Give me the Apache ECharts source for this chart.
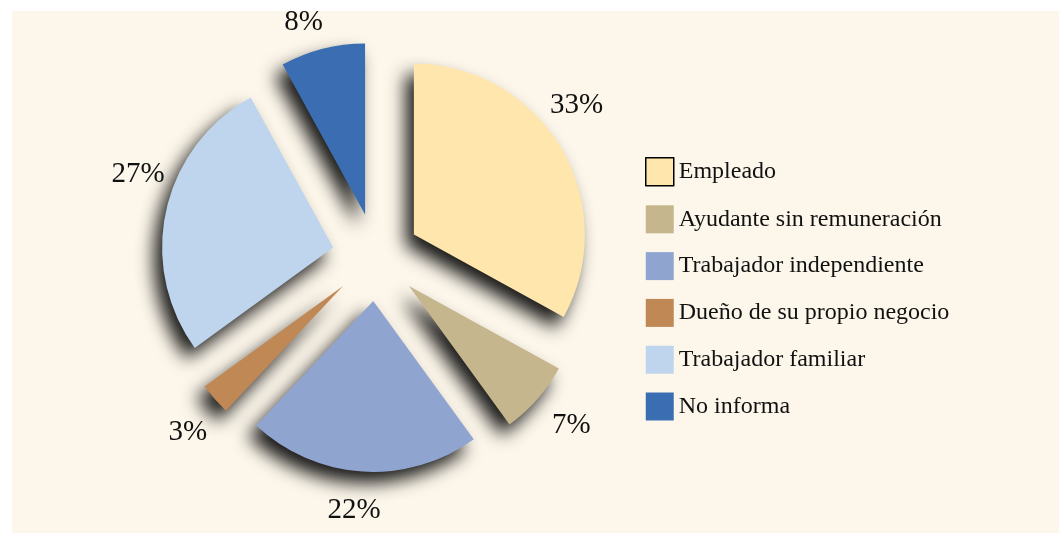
<!DOCTYPE html>
<html>
<head>
<meta charset="utf-8">
<script src="https://cdn.jsdelivr.net/npm/echarts@6/dist/echarts.min.js"></script>
<style>
  html, body { margin: 0; padding: 0; background: #ffffff; }
  #chart { width: 1059px; height: 533px; }
</style>
</head>
<body>
<div id="chart"></div>
<script>
// Categories and their shares (%)
var categories = [
    'Empleado',
    'Ayudante sin remuneración',
    'Trabajador independiente',
    'Dueño de su propio negocio',
    'Trabajador familiar',
    'No informa'
];
var shares = [33, 7, 22, 3, 27, 8];
var colors = ['#FFE6AD', '#C6B68D', '#90A4D0', '#C08855', '#BED5ED', '#3A6DB1'];
// small hand nudges for the percentage labels (px), as in the original layout
var labelNudges = [[-19, -22], [4, 0], [-6, -1], [3, 7], [11, -27], [-9, 12]];

var serif = '"Liberation Serif", "Times New Roman", serif';
var pieCenter = [376, 257];
var pieRadius = 171;
var explode = 44;

// Slices, every one pulled out
var pieData = categories.map(function (name, i) {
    return { name: name, value: shares[i], selected: true, itemStyle: { color: colors[i] } };
});

// Invisible ring that only carries the percentage labels
var labelData = categories.map(function (name, i) {
    return { name: name, value: shares[i], selected: true };
});

// Legend entries, the first one gets a black border like the original
var legendData = categories.map(function (name, i) {
    if (i === 0) {
        return { name: name, itemStyle: { borderColor: '#000', borderWidth: 1.5 } };
    }
    return { name: name };
});

var chart = echarts.init(document.getElementById('chart'), null, { renderer: 'canvas' });

chart.setOption({
    animation: false,
    backgroundColor: '#ffffff',
    graphic: [{
        type: 'rect',
        z: -10,
        shape: { x: 12, y: 11, width: 1047, height: 522 },
        style: { fill: '#FDF7EB' }
    }],
    legend: {
        orient: 'vertical',
        left: 645,
        top: 157,
        padding: 0,
        icon: 'rect',
        itemWidth: 28,
        itemHeight: 28,
        itemGap: 18.8,
        selectedMode: false,
        data: legendData,
        textStyle: { fontFamily: serif, fontSize: 24, color: '#111' }
    },
    series: [{
        type: 'pie',
        center: pieCenter,
        radius: pieRadius,
        startAngle: 90,
        clockwise: true,
        selectedMode: 'multiple',
        selectedOffset: explode,
        silent: true,
        data: pieData,
        itemStyle: {
            shadowBlur: 18,
            shadowColor: 'rgba(0,0,0,0.9)',
            shadowOffsetX: -8,
            shadowOffsetY: 11
        },
        label: { show: false },
        labelLine: { show: false }
    }, {
        type: 'pie',
        center: pieCenter,
        radius: [pieRadius + 27, pieRadius + 47],
        startAngle: 90,
        clockwise: true,
        selectedMode: 'multiple',
        selectedOffset: explode,
        silent: true,
        data: labelData,
        itemStyle: { color: 'rgba(0,0,0,0)' },
        label: {
            show: true,
            position: 'inside',
            rotate: 0,
            formatter: function (p) { return p.value + '%'; },
            fontFamily: serif,
            fontSize: 29,
            color: '#111'
        },
        labelLine: { show: false },
        labelLayout: function (p) {
            var n = labelNudges[p.dataIndex];
            return { dx: n[0], dy: n[1] };
        }
    }]
});
</script>
</body>
</html>
